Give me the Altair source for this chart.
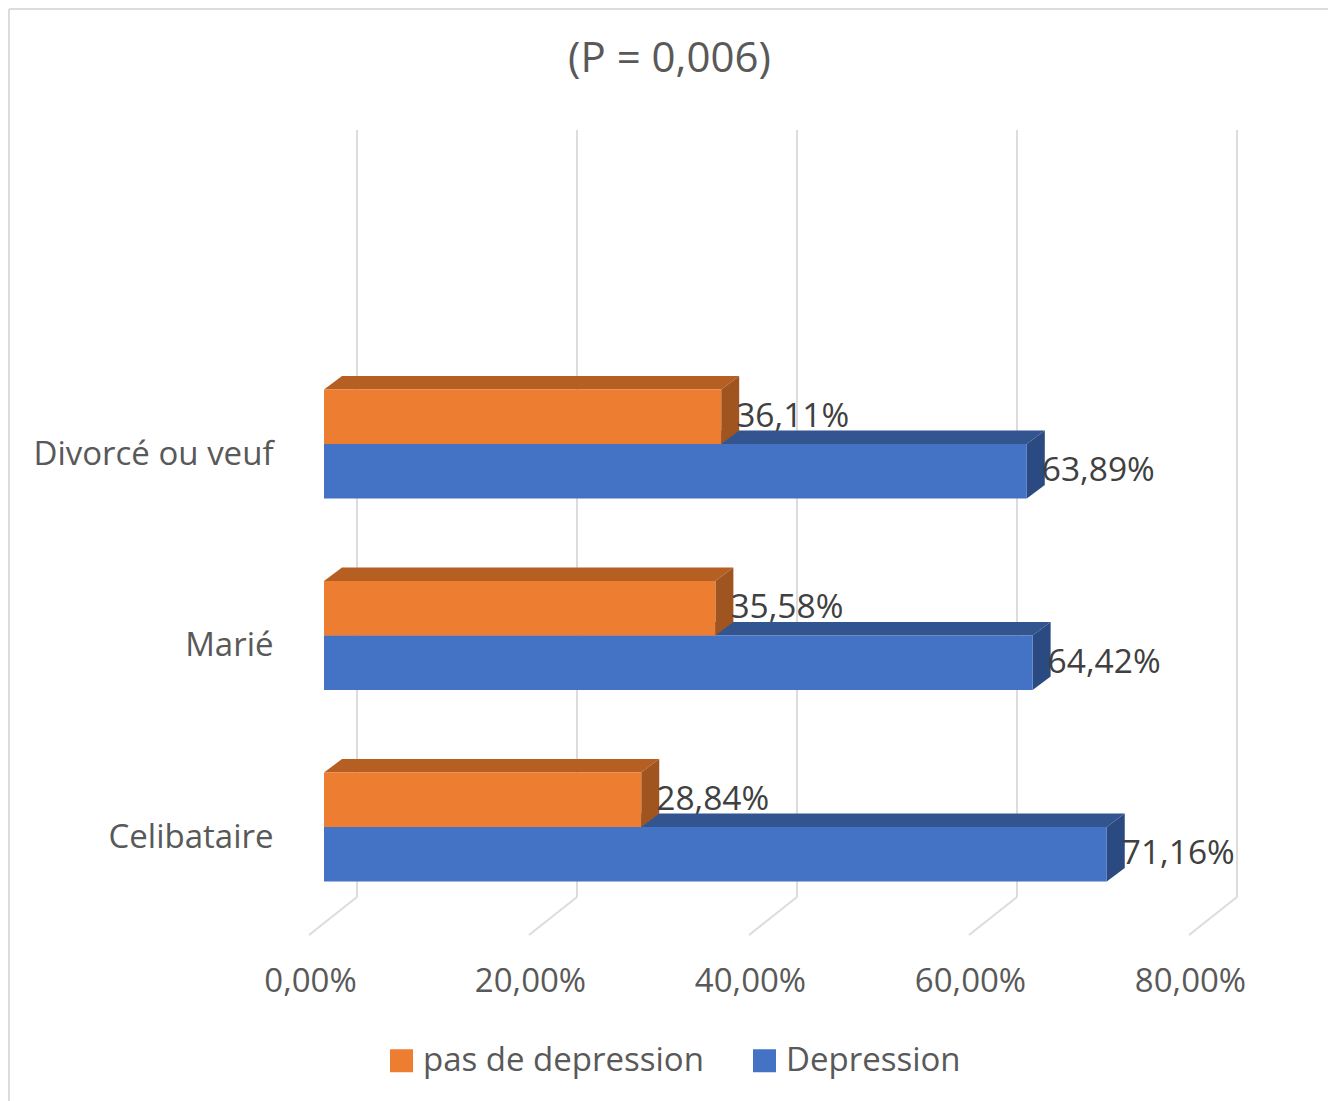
import altair as alt
import pandas as pd

# Share of respondents with and without depression, by marital status
categories = ["Celibataire", "Marié", "Divorcé ou veuf"]
no_depression = [28.84, 35.58, 36.11]
depression = [71.16, 64.42, 63.89]
ticks = [0, 20, 40, 60, 80]
series = ["pas de depression", "Depression"]

FONT = "Open Sans"
WEIGHT = 500
ORANGE, ORANGE_TOP, ORANGE_SIDE = "#ed7d31", "#b55f22", "#a05520"
BLUE, BLUE_TOP, BLUE_SIDE = "#4472c4", "#33558f", "#2b4a82"
GRID = "#dcdcdc"

# Pixel scale of the axes, and the fake-3D extrusion expressed in axis units
PX_PER_PCT = 11.0
PX_PER_ROW = 191.5
DX = 18 / PX_PER_PCT
DY = 13.5 / PX_PER_ROW
BAR_H = 54.5 / PX_PER_ROW
WALL_DX = 33 / PX_PER_PCT
FLOOR_DX = -15 / PX_PER_PCT
X_DOMAIN = [FLOOR_DX, 916 / PX_PER_PCT]
Y_DOMAIN = [-108 / PX_PER_ROW, 697 / PX_PER_ROW]
WALL_FLOOR = -70 / PX_PER_ROW


def fr(v):
    return f"{v:.2f}".replace(".", ",") + "%"


front, top, side, labels = [], [], [], []
for row, (a, b) in enumerate(zip(no_depression, depression)):
    # Blue first so that the orange bar's extrusion sits over it
    for name, v, y0 in ((series[1], b, row - BAR_H), (series[0], a, row)):
        y1 = y0 + BAR_H
        key = f"{name}-{row}"
        front.append(dict(series=name, x=0, x2=v, y=y0, y2=y1))
        top.append(dict(key=key, series=name, y=y1, x=0, x2=v))
        top.append(dict(key=key, series=name, y=y1 + DY, x=DX, x2=v + DX))
        side.append(dict(key=key, series=name, x=v, y=y0, y2=y1))
        side.append(dict(key=key, series=name, x=v + DX, y=y0 + DY, y2=y1 + DY))
        labels.append(dict(x=v, y=(y0 + y1) / 2, text=fr(v)))

walls = pd.DataFrame([dict(x=t + WALL_DX, y=WALL_FLOOR, y2=Y_DOMAIN[1]) for t in ticks])
floor = pd.DataFrame(
    [dict(t=t, x=t + FLOOR_DX, y=Y_DOMAIN[0]) for t in ticks]
    + [dict(t=t, x=t + WALL_DX, y=WALL_FLOOR) for t in ticks]
)
front = pd.DataFrame(front)
top = pd.DataFrame(top)
side = pd.DataFrame(side)
labels = pd.DataFrame(labels)

x_scale = alt.Scale(domain=X_DOMAIN, nice=False, zero=False)
y_scale = alt.Scale(domain=Y_DOMAIN, nice=False, zero=False)
face_side = alt.Scale(domain=series, range=[ORANGE_SIDE, BLUE_SIDE])
face_top = alt.Scale(domain=series, range=[ORANGE_TOP, BLUE_TOP])


def X(name="x", **kw):
    return alt.X(f"{name}:Q", scale=x_scale, title=None, **kw)


def Y(name="y", **kw):
    return alt.Y(f"{name}:Q", scale=y_scale, title=None, **kw)


x_axis = alt.Axis(
    values=ticks, labelExpr="replace(format(datum.value, '.2f'), '.', ',') + '%'",
    domain=False, ticks=False, grid=False, labelOffset=-14, labelPadding=30,
    labelFont=FONT, labelFontSize=33, labelFontWeight=WEIGHT, labelColor="#595959",
    labelOverlap=False, labelFlush=False,
)
y_axis = alt.Axis(
    values=[0, 1, 2],
    labelExpr="['Celibataire', 'Marié', 'Divorcé ou veuf'][datum.value]",
    domain=False, ticks=False, grid=False, labelOffset=10, labelPadding=36,
    labelFont=FONT, labelFontSize=33, labelFontWeight=WEIGHT, labelColor="#595959",
    labelOverlap=False, labelFlush=False, labelLimit=400,
)

wall_rules = alt.Chart(walls).mark_rule(color=GRID, strokeWidth=2).encode(
    x=X(axis=x_axis), y=Y(axis=y_axis), y2="y2:Q"
)
floor_lines = alt.Chart(floor).mark_line(color=GRID, strokeWidth=2).encode(
    x=X(), y=Y(), detail="t:N", order="x:Q"
)

# Chart frame: only the top and left edges fall inside the canvas
frame_top = alt.Chart(pd.DataFrame({"k": [0]})).mark_rule(color=GRID, strokeWidth=2).encode(
    x=alt.value(-300), x2=alt.value(1019), y=alt.value(-121)
)
frame_left = alt.Chart(pd.DataFrame({"k": [0]})).mark_rule(color=GRID, strokeWidth=2).encode(
    x=alt.value(-300), y=alt.value(-121), y2=alt.value(971)
)

tops = alt.Chart(top).mark_area(orient="horizontal").encode(
    y=Y(sort=None), x=X(stack=None), x2="x2:Q", detail="key:N",
    fill=alt.Fill("series:N", scale=face_top, legend=None),
)
sides = alt.Chart(side).mark_area(orient="vertical").encode(
    x=X(), y=Y(stack=None), y2="y2:Q", detail="key:N",
    fill=alt.Fill("series:N", scale=face_side, legend=None),
)
fronts = alt.Chart(front).mark_rect().encode(
    x=X(), x2="x2:Q", y=Y(), y2="y2:Q",
    color=alt.Color(
        "series:N",
        scale=alt.Scale(domain=series, range=[ORANGE, BLUE]),
        legend=alt.Legend(
            title=None, orient="none", legendX=76, legendY=914, direction="horizontal",
            columns=2, symbolType="square", symbolSize=529, symbolStrokeWidth=0,
            labelFont=FONT, labelFontSize=33, labelFontWeight=WEIGHT, labelColor="#595959",
            labelLimit=400, columnPadding=44, labelOffset=5, symbolOpacity=1,
        ),
    ),
)
value_labels = alt.Chart(labels).mark_text(
    align="left", baseline="middle", dx=15, dy=0,
    font=FONT, fontSize=33.5, fontWeight=WEIGHT, color="#404040",
).encode(x=X(), y=Y(), text="text:N")


# Each bar is painted back to front, lower rows first, blue under orange
chart = alt.layer(
    frame_top, frame_left, wall_rules, floor_lines,
    tops, sides, fronts, value_labels,
).resolve_scale(fill="independent", color="independent").properties(
    width=931, height=805,
    padding={"left": 309, "top": 130, "right": 88, "bottom": 166},
    autosize=alt.AutoSizeParams(type="none"),
    background="white",
    title=alt.TitleParams(
        "(P = 0,006)", font=FONT, fontSize=42, fontWeight=WEIGHT, color="#595959",
        anchor="middle", dx=-105, offset=-73,
    ),
).configure_view(stroke=None)

chart.save("out.html", embed_options={"renderer": "svg", "actions": False})
